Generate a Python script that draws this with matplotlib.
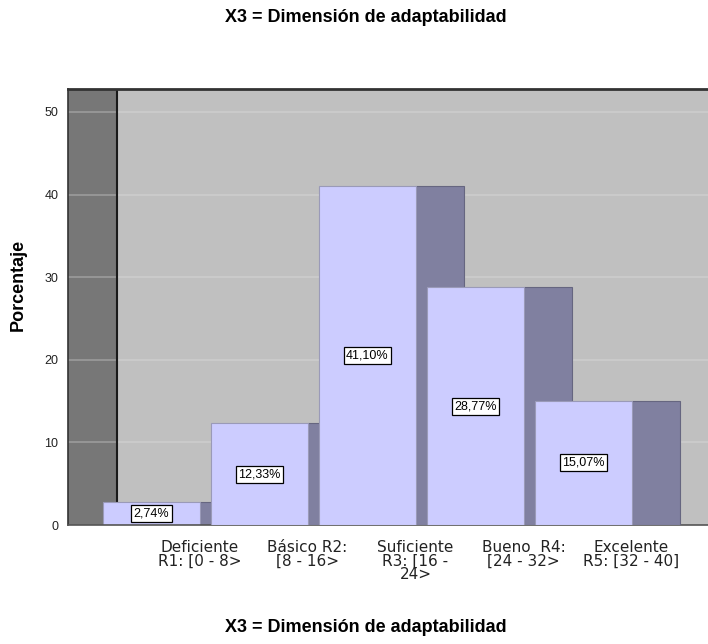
import matplotlib.pyplot as plt
from matplotlib.patches import Rectangle

categories = ['Deficiente\nR1: [0 - 8>', 'Básico R2:\n[8 - 16>', 'Suficiente\nR3: [16 -\n24>',
              'Bueno  R4:\n[24 - 32>', 'Excelente\nR5: [32 - 40]']
values = [2.74, 12.33, 41.10, 28.77, 15.07]
value_labels = ['2,74%', '12,33%', '41,10%', '28,77%', '15,07%']
yticks = [0, 10, 20, 30, 40, 50]
title = 'X3 = Dimensión de adaptabilidad'

plt.rcParams['font.family'] = ['Liberation Sans', 'DejaVu Sans']

W, H = 708, 644
fig = plt.figure(figsize=(W / 100, H / 100), dpi=100)
# axes box in pixels: left 68, right 708, top 89, bottom 525
ax = fig.add_axes([68 / W, (H - 525) / H, 640 / W, (525 - 89) / H])

unit = 108.0                 # pixels per bar step
wall_w = 49 / unit           # dark left wall
left0 = (103 - 68) / unit    # first bar front left edge
front_w = 97 / unit
depth = 48 / unit
ymax = (525 - 89) / 8.26

ax.set_xlim(0, 640 / unit)
ax.set_ylim(0, ymax)
ax.set_facecolor('#C0C0C0')

# dark side wall
ax.add_patch(Rectangle((0, 0), wall_w, ymax, facecolor='#777777', edgecolor='none', zorder=0.5))
# gridlines
for y in yticks[1:]:
    ax.plot([0, wall_w], [y, y], color='#9C9C9C', lw=1.2, zorder=0.8)
    ax.plot([wall_w, 640 / unit], [y, y], color='#CDCDCD', lw=1.2, zorder=0.8)
ax.axvline(wall_w, color='#1a1a1a', lw=1.5, zorder=0.9)

# bars: side face then front face, left to right so next front hides previous side
for i, (v, lab) in enumerate(zip(values, value_labels)):
    x0 = left0 + i
    z = 2 + i
    ax.add_patch(Rectangle((x0 + front_w, 0), depth, v, facecolor='#8080A0',
                           edgecolor='#666680', lw=0.8, zorder=z))
    ax.add_patch(Rectangle((x0, 0), front_w, v, facecolor='#CCCCFF',
                           edgecolor='#9A9AB8', lw=0.8, zorder=z + 0.1))
    ax.text(x0 + front_w / 2, v / 2, lab, ha='center', va='center', fontsize=9,
            zorder=z + 0.2,
            bbox=dict(boxstyle='square,pad=0.2', facecolor='white', edgecolor='black', lw=0.9))

# axes ticks
ax.set_yticks(yticks)
ax.set_yticklabels([str(t) for t in yticks], fontsize=9, color='#222222')
ax.set_xticks([left0 + i + front_w / 2 + depth for i in range(len(categories))])
ax.set_xticklabels(categories, fontsize=11, color='#222222', linespacing=0.85, va='top',
                   family='DejaVu Sans')
ax.tick_params(axis='both', length=0)
ax.tick_params(axis='y', pad=7)
ax.tick_params(axis='x', pad=11)

ax.spines['right'].set_visible(False)
ax.spines['top'].set_color('#333333')
ax.spines['top'].set_linewidth(2)
ax.spines['left'].set_color('#333333')
ax.spines['left'].set_linewidth(1.2)
ax.spines['bottom'].set_color('#555555')
ax.spines['bottom'].set_linewidth(1.2)

fig.text(366 / W, 1 - 17 / H, title, ha='center', va='center', fontsize=13, fontweight='bold')
fig.text(366 / W, 1 - 628 / H, title, ha='center', va='center', fontsize=13, fontweight='bold')
fig.text(18 / W, 1 - 285 / H, 'Porcentaje', ha='center', va='center', rotation=90,
         fontsize=13, fontweight='bold')

fig.savefig('out.png', dpi=100, facecolor='white')
